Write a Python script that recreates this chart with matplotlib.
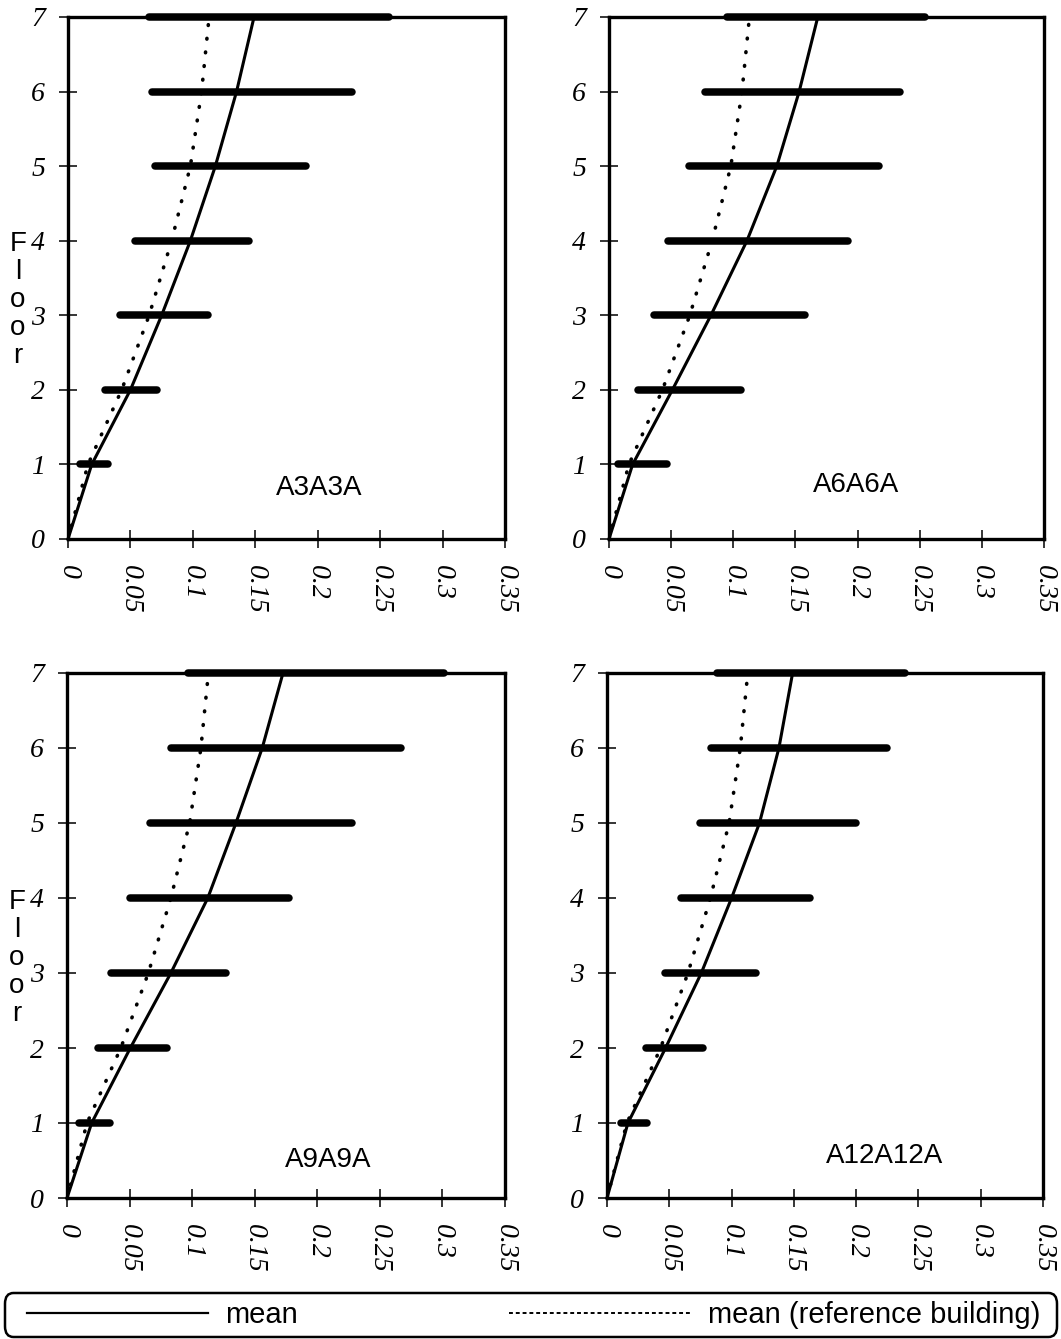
import numpy as np
import matplotlib.pyplot as plt
from matplotlib.lines import Line2D
from matplotlib.patches import FancyBboxPatch

# Plantas del edificio
pisos = np.arange(0, 8)
pisos_barra = np.arange(1, 8)

# Rango (min - max) por planta y media de cada modelo
a3_min = [0.0094, 0.030, 0.042, 0.054, 0.070, 0.0673, 0.0646]
a3_max = [0.032, 0.071, 0.112, 0.145, 0.191, 0.2275, 0.257]
a3_media = [0, 0.019, 0.050, 0.075, 0.098, 0.118, 0.135, 0.149]

a6_min = [0.0076, 0.023, 0.036, 0.0476, 0.0643, 0.0776, 0.0946]
a6_max = [0.0468, 0.106, 0.158, 0.192, 0.217, 0.234, 0.254]
a6_media = [0, 0.019, 0.051, 0.082, 0.111, 0.135, 0.153, 0.168]

a9_min = [0.0094, 0.0245, 0.035, 0.050, 0.066, 0.083, 0.0964]
a9_max = [0.034, 0.080, 0.127, 0.177, 0.228, 0.267, 0.301]
a9_media = [0, 0.0197, 0.0506, 0.083, 0.1125, 0.135, 0.156, 0.1726]

a12_min = [0.011, 0.031, 0.0468, 0.0595, 0.075, 0.0838, 0.0886]
a12_max = [0.0324, 0.077, 0.120, 0.1627, 0.1995, 0.225, 0.239]
a12_media = [0, 0.0168, 0.047, 0.0757, 0.100, 0.1224, 0.138, 0.149]

# Media del edificio de referencia (igual en los cuatro casos)
ref_media = [0, 0.016, 0.043, 0.065, 0.083, 0.098, 0.107, 0.113]

nombres = ["A3A3A", "A6A6A", "A9A9A", "A12A12A"]
x_ticks = [0, 0.05, 0.1, 0.15, 0.2, 0.25, 0.3, 0.35]
x_labels = ["0", "0.05", "0.1", "0.15", "0.2", "0.25", "0.3", "0.35"]

casos = [
    (a3_min, a3_max, a3_media),
    (a6_min, a6_max, a6_media),
    (a9_min, a9_max, a9_media),
    (a12_min, a12_max, a12_media),
]

# posicion de cada panel en la figura (izq, abajo, ancho, alto)
W, H = 1061, 1339
cajas = [
    (68 / W, 1 - 539 / H, 437 / W, 522 / H),
    (609 / W, 1 - 539 / H, 435 / W, 522 / H),
    (67 / W, 1 - 1198 / H, 438 / W, 525 / H),
    (607 / W, 1 - 1198 / H, 436 / W, 525 / H),
]
pos_nombre = [(0.201, 0.68), (0.199, 0.72), (0.209, 0.51), (0.223, 0.56)]

fuente_num = dict(family="Liberation Serif", style="italic", size=20)
fuente_txt = dict(family="Liberation Sans", size=20)

fig = plt.figure(figsize=(W / 100, H / 100), dpi=100)

for i, (caja, (vmin, vmax, media)) in enumerate(zip(cajas, casos)):
    ax = fig.add_axes(caja)

    # barras de rango por planta
    ax.hlines(pisos_barra, vmin, vmax, color="black", linewidth=5.4,
              capstyle="round", clip_on=False, zorder=3)
    ax.plot(media, pisos, color="black", linewidth=2.2, zorder=4, clip_on=False)
    ax.plot(ref_media, pisos, color="black", linewidth=2.6,
            linestyle=(0, (0.2, 3.6)), dash_capstyle="round", zorder=4)

    ax.set_xlim(0, 0.35)
    ax.set_ylim(0, 7)
    ax.set_xticks(x_ticks)
    ax.set_xticklabels(x_labels, rotation=270, ha="center", va="top", **fuente_num)
    ax.set_yticks(pisos)
    ax.set_yticklabels([str(p) for p in pisos], **fuente_num)
    ax.tick_params(direction="inout", length=13, width=1.1, color="black")
    ax.tick_params(axis="x", pad=12)
    ax.tick_params(axis="y", pad=10)
    for s in ax.spines.values():
        s.set_linewidth(2.4)

    ax.text(pos_nombre[i][0], pos_nombre[i][1], nombres[i], ha="center",
            va="center", **fuente_txt)

    # etiqueta vertical "Floor" solo en la columna izquierda
    if i % 2 == 0:
        ax.text(-50 / 437, 3.2 / 7, "F\nl\no\no\nr", transform=ax.transAxes,
                ha="center", va="center", linespacing=1.1, **fuente_txt)

# marco redondeado de la leyenda, a todo lo ancho
marco = FancyBboxPatch((5 / W, 2 / H), 1052 / W, 44 / H, transform=fig.transFigure,
                       boxstyle="round,pad=0,rounding_size=0.008",
                       facecolor="white", edgecolor="black", linewidth=1.8)
fig.patches.append(marco)

handles = [
    Line2D([], [], color="black", linewidth=1.6),
    Line2D([], [], color="black", linewidth=1.4, linestyle=(0, (2, 1.5))),
]
leg = fig.legend(handles, ["mean", "mean (reference building)"],
                 loc="center", bbox_to_anchor=(27 / W, 2 / H, 1013 / W, 44 / H),
                 mode="expand", ncol=2, handlelength=6.2, handletextpad=0.6,
                 borderpad=0, borderaxespad=0, frameon=False,
                 prop=dict(family="Liberation Sans", size=21))

fig.savefig("out.png", dpi=100)
